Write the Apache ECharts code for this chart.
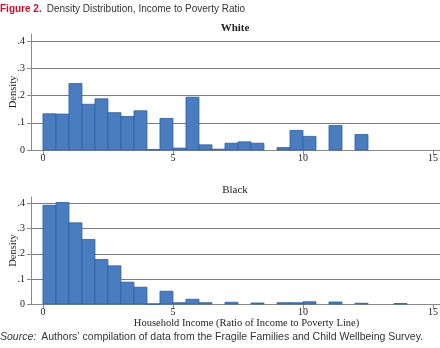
<!DOCTYPE html>
<html>
<head>
<meta charset="utf-8">
<script src="https://cdn.jsdelivr.net/npm/echarts@6/dist/echarts.min.js"></script>
<style>
html,body{margin:0;padding:0;background:#fff;}
#c{width:440px;height:348px;}
</style>
</head>
<body>
<div id="c"></div>
<script>
// Bin starts (income-to-poverty ratio), bin width 0.5
var binStart = [0,0.5,1,1.5,2,2.5,3,3.5,4,4.5,5,5.5,6,6.5,7,7.5,8,8.5,9,9.5,10,10.5,11,11.5,12,12.5,13,13.5,14,14.5];
var binWidth = 0.5;
// Density values
var whiteDensity = [0.133,0.132,0.244,0.168,0.188,0.137,0.123,0.144,0.002,0.116,0.007,0.194,0.019,0.003,0.025,0.030,0.025,0,0.009,0.072,0.050,0,0.090,0,0.057,0,0,0,0,0];
var blackDensity = [0.393,0.404,0.323,0.257,0.177,0.152,0.087,0.067,0.001,0.051,0.005,0.019,0.005,0,0.007,0,0.004,0,0.005,0.005,0.009,0,0.008,0,0.003,0,0,0.002,0,0];
var xTicks = [0,5,10,15];
var yTicks = [0,0.1,0.2,0.3,0.4];

function yFmt(v){ return v === 0 ? '0' : ('.' + Math.round(v*10)); }

var serif = '"Liberation Serif", "DejaVu Serif", serif';
var sans = '"Liberation Sans", Arial, sans-serif';

function histData(vals){
  var out = [];
  for (var i = 0; i < vals.length; i++) {
    if (vals[i] > 0) out.push([binStart[i], binStart[i] + binWidth, vals[i]]);
  }
  return out;
}

function renderBar(params, api){
  var p0 = api.coord([api.value(0), 0]);
  var p1 = api.coord([api.value(1), api.value(2)]);
  return {
    type: 'rect',
    shape: { x: p0[0], y: p1[1], width: p1[0] - p0[0], height: Math.max(p0[1] - p1[1], 0.6) },
    style: { fill: '#4a7dbf', stroke: '#2f5f9e', lineWidth: 0.8 }
  };
}

var grids = [
  { left: 31, right: 0, top: 34, height: 116, outerBoundsMode: 'none', containLabel: false },
  { left: 31, right: 0, top: 197, height: 107, outerBoundsMode: 'none', containLabel: false }
];

function xAx(i){
  return {
    gridIndex: i, type: 'value', min: -0.46, max: 15.27,
    axisLine: { show: true, onZero: false, lineStyle: { color: '#8a8a8a', width: 1 } },
    axisTick: { show: true, length: 5, customValues: xTicks, lineStyle: { color: '#8a8a8a' } },
    axisLabel: { customValues: xTicks, color: '#222', fontFamily: serif, fontSize: 10, margin: 3 },
    splitLine: { show: false },
    name: i === 1 ? 'Household Income (Ratio of Income to Poverty Line)' : '',
    nameLocation: 'middle', nameGap: 14, nameMoveOverlap: false,
    nameTextStyle: { color: '#222', fontFamily: serif, fontSize: 10.5, lineHeight: 10, padding: [0,0,0,22] }
  };
}
function yAx(i){
  return {
    gridIndex: i, type: 'value', min: 0, max: 0.426,
    axisLine: { show: true, onZero: false, lineStyle: { color: '#8a8a8a', width: 1 } },
    axisTick: { show: true, length: 4, customValues: yTicks, lineStyle: { color: '#8a8a8a' } },
    axisLabel: { customValues: yTicks, formatter: yFmt, color: '#222', fontFamily: serif, fontSize: 10, margin: 6 },
    splitLine: { show: true, lineStyle: { color: '#7c7c7c', width: 1 } },
    name: 'Density', nameLocation: 'middle', nameGap: 12, nameRotate: 90, nameMoveOverlap: false,
    nameTextStyle: { color: '#222', fontFamily: serif, fontSize: 10.5 }
  };
}

var chart = echarts.init(document.getElementById('c'), null, { renderer: 'canvas' });
chart.setOption({
  animation: false,
  backgroundColor: '#fff',
  title: [
    { text: '{r|Figure 2.} {g|Density Distribution, Income to Poverty Ratio}', left: 0, top: 0, padding: 0,
      textStyle: { fontWeight: 'normal', rich: {
        r: { color: '#c8102e', fontWeight: 'bold', fontFamily: sans, fontSize: 10 },
        g: { color: '#333', fontWeight: 'normal', fontFamily: sans, fontSize: 10 }
      } } },
    { text: 'White', left: 235, textAlign: 'center', top: 23, padding: 0,
      textStyle: { color: '#222', fontFamily: serif, fontSize: 11, fontWeight: 'bold' } },
    { text: 'Black', left: 235, textAlign: 'center', top: 185, padding: 0,
      textStyle: { color: '#222', fontFamily: serif, fontSize: 11, fontWeight: 'normal' } },
    { text: '{i|Source:} {n|Authors\u2019 compilation of data from the Fragile Families and Child Wellbeing Survey.}', left: 0, top: 328, padding: 0,
      textStyle: { fontWeight: 'normal', rich: {
        i: { fontStyle: 'italic', fontWeight: 'normal', color: '#333', fontFamily: sans, fontSize: 10.5, lineHeight: 11 },
        n: { color: '#333', fontWeight: 'normal', fontFamily: sans, fontSize: 10.5, lineHeight: 11 }
      } } }
  ],
  grid: grids,
  xAxis: [xAx(0), xAx(1)],
  yAxis: [yAx(0), yAx(1)],
  series: [
    { type: 'custom', xAxisIndex: 0, yAxisIndex: 0, renderItem: renderBar, data: histData(whiteDensity), encode: { x: [0,1], y: 2 } },
    { type: 'custom', xAxisIndex: 1, yAxisIndex: 1, renderItem: renderBar, data: histData(blackDensity), encode: { x: [0,1], y: 2 } }
  ]
});
</script>
</body>
</html>
